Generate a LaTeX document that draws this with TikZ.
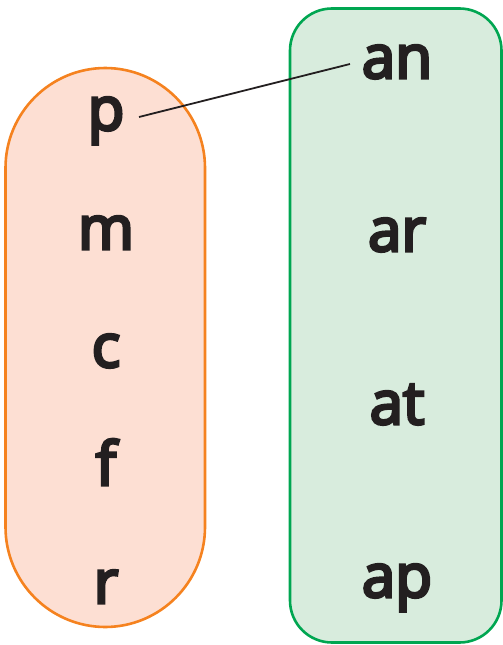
\documentclass[tikz,border=0pt]{standalone}
\usepackage{fontspec}
\setmainfont{Open Sans}
\newfontfamily\lblfont{Open Sans}[FakeBold=5]
\definecolor{orangeline}{HTML}{F5821F}
\definecolor{orangefill}{HTML}{FDDFD3}
\definecolor{greenline}{HTML}{00A651}
\definecolor{greenfill}{HTML}{D8ECDD}
\definecolor{txt}{HTML}{231F20}
\begin{document}
\begin{tikzpicture}[x=1pt,y=-1pt,
  lbl/.style={anchor=base,inner sep=0pt,text=txt,font=\fontsize{60}{60}\lblfont},
  setbox/.style={line width=2.6pt}]
\useasboundingbox (0,0) rectangle (503,645);
\draw[setbox,draw=orangeline,fill=orangefill,rounded corners=100pt] (5.5,68) rectangle (205,627);
\draw[setbox,draw=greenline,fill=greenfill,rounded corners=42pt] (290,8.5) rectangle (501.5,642.5);
\node[lbl] (p) at (106,130) {p};
\node[lbl] (m) at (106,249) {m};
\node[lbl] (c) at (106,367) {c};
\node[lbl] (f) at (106,485) {f};
\node[lbl] (r) at (106,603) {r};
\node[lbl] (an) at (397,78) {an};
\node[lbl] (ar) at (397,251) {ar};
\node[lbl] (at) at (397,424) {at};
\node[lbl] (ap) at (397,597) {ap};
\coordinate (pe) at (139,117);
\coordinate (anw) at (350,64);
\draw[line width=1.8pt,txt] (pe) -- (anw);
\end{tikzpicture}
\end{document}
